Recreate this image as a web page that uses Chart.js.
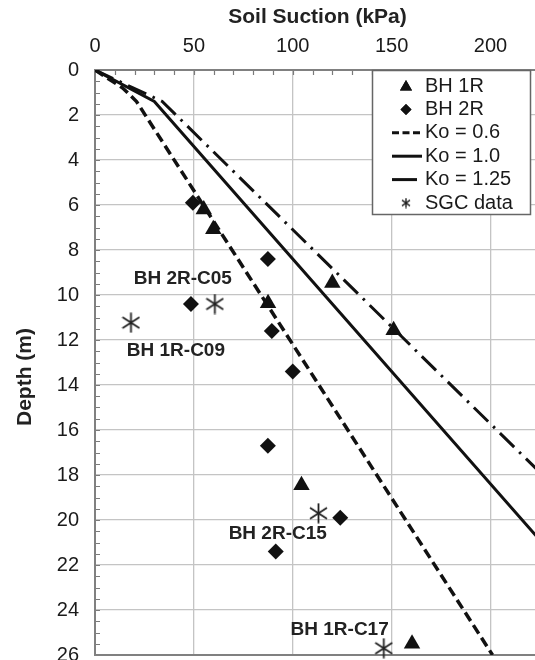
<!DOCTYPE html>
<html><head><meta charset="utf-8">
<script src="https://cdn.jsdelivr.net/npm/chart.js@4.4.0/dist/chart.umd.min.js"></script>
<style>
html,body{margin:0;padding:0;background:#fff;overflow:hidden;width:535px;height:660px}
#wrap{position:absolute;left:0;top:0;width:560px;height:700px}
</style>
</head><body><div id="wrap"><canvas id="c"></canvas></div>
<script>
// ---- data (suction in kPa, depth in m) ----
const bh1rSuction = [55, 59.8, 87.5, 120, 151, 104.4, 160.3];
const bh1rDepth   = [6.2, 7.08, 10.37, 9.47, 11.57, 18.46, 25.5];
const bh2rSuction = [49.5, 87.4, 48.5, 89.4, 100, 87.4, 124, 91.4];
const bh2rDepth   = [5.9, 8.4, 10.4, 11.6, 13.4, 16.7, 19.9, 21.4];
const sgcSuction  = [60.6, 18.2, 113, 146];
const sgcDepth    = [10.4, 11.23, 19.7, 25.7];
const ko06Suction = [0, 14, 21, 201];
const ko06Depth   = [0, 0.8, 1.4, 26];
const ko10Suction = [0, 30, 276];
const ko10Depth   = [0, 1.4, 26];
const ko125Suction = [0, 34, 319];
const ko125Depth   = [0, 1.4, 26];
const sgcLabels       = ['BH 2R-C05', 'BH 1R-C09', 'BH 2R-C15', 'BH 1R-C17'];
const sgcLabelSuction = [44.4, 40.9, 92.4, 123.7];
const sgcLabelDepth   = [9.3, 12.5, 20.6, 24.9];
const seriesNames = ['BH 1R', 'BH 2R', 'Ko = 0.6', 'Ko = 1.0', 'Ko = 1.25', 'SGC data'];
const xTitle = 'Soil Suction (kPa)';
const yTitle = 'Depth (m)';

const FONT = "'Liberation Sans', Arial, sans-serif";
const pts = (xs, ys) => xs.map((x, i) => ({x: x, y: ys[i]}));

function makeAsterisk(w, h, lw) {
  const c = document.createElement('canvas');
  c.width = w; c.height = h;
  const g = c.getContext('2d');
  g.strokeStyle = '#222'; g.lineWidth = lw; g.lineCap = 'butt';
  g.beginPath();
  g.moveTo(w/2, 0.5); g.lineTo(w/2, h-0.5);
  g.moveTo(1, h*0.24); g.lineTo(w-1, h*0.76);
  g.moveTo(1, h*0.76); g.lineTo(w-1, h*0.24);
  g.stroke();
  return c;
}
const asterisk = makeAsterisk(19, 21, 1.8);
const asteriskSmall = makeAsterisk(10, 11, 1.4);

const datasets = [
  {label: seriesNames[0], data: pts(bh1rSuction, bh1rDepth), pointStyle: 'triangle', pointRadius: 9.5,
   backgroundColor: '#111', borderColor: '#111', borderWidth: 0, showLine: false, clip: false},
  {label: seriesNames[1], data: pts(bh2rSuction, bh2rDepth), pointStyle: 'rectRot', pointRadius: 8,
   backgroundColor: '#111', borderColor: '#111', borderWidth: 0, showLine: false, clip: false},
  {label: seriesNames[2], data: pts(ko06Suction, ko06Depth), showLine: true, pointRadius: 0,
   borderColor: '#111', borderWidth: 3.5, borderDash: [10, 5], fill: false},
  {label: seriesNames[3], data: pts(ko10Suction, ko10Depth), showLine: true, pointRadius: 0,
   borderColor: '#111', borderWidth: 3, borderDash: [], fill: false},
  {label: seriesNames[4], data: pts(ko125Suction, ko125Depth), showLine: true, pointRadius: 0,
   borderColor: '#111', borderWidth: 3, borderDash: [20, 7, 2.5, 7], fill: false},
  {label: seriesNames[5], data: pts(sgcSuction, sgcDepth), pointStyle: asterisk, pointRadius: 10,
   backgroundColor: '#222', borderColor: '#222', showLine: false, clip: false}
];

const frameAndExtras = {
  id: 'frameAndExtras',
  beforeDatasetsDraw(chart) {
    const ctx = chart.ctx, a = chart.chartArea;
    const xs = chart.scales.x, ys = chart.scales.y;
    ctx.save();
    ctx.strokeStyle = '#7a7a7a';
    ctx.lineWidth = 1.2;
    ctx.beginPath();
    for (let v = 10; v < xs.max; v += 10) {
      const px = Math.round(xs.getPixelForValue(v)) + 0.5;
      ctx.moveTo(px, a.top); ctx.lineTo(px, a.top + 5);
    }
    for (let d = 0.5; d < ys.max; d += 0.5) {
      const py = Math.round(ys.getPixelForValue(d)) + 0.5;
      ctx.moveTo(a.left, py); ctx.lineTo(a.left + 5, py);
    }
    ctx.stroke();
    ctx.strokeStyle = '#808080';
    ctx.lineWidth = 2;
    ctx.strokeRect(a.left, a.top, a.right - a.left, a.bottom - a.top);
    ctx.restore();
  },
  afterDatasetsDraw(chart) {
    const ctx = chart.ctx;
    const xs = chart.scales.x, ys = chart.scales.y;
    ctx.save();
    // SGC annotations
    ctx.fillStyle = '#222';
    ctx.font = 'bold 19px ' + FONT;
    ctx.textAlign = 'center';
    ctx.textBaseline = 'middle';
    sgcLabels.forEach((t, i) => {
      ctx.fillText(t, xs.getPixelForValue(sgcLabelSuction[i]), ys.getPixelForValue(sgcLabelDepth[i]));
    });
    // Y title
    ctx.save();
    ctx.translate(25, 377);
    ctx.rotate(-Math.PI / 2);
    ctx.font = 'bold 21px ' + FONT;
    ctx.fillStyle = '#222';
    ctx.fillText(yTitle, 0, 0);
    ctx.restore();
    // Legend box
    const L = 372, T = chart.chartArea.top, R = 530, B = 214;
    ctx.fillStyle = '#fff';
    ctx.fillRect(L, T, R - L, B - T);
    ctx.strokeStyle = '#666';
    ctx.lineWidth = 1.5;
    ctx.strokeRect(L + 0.5, T + 0.5, R - L, B - T);
    const rowY = i => 86 + i * 23.4;
    const mx = 406;
    ctx.font = '20px ' + FONT;
    ctx.textAlign = 'left';
    chart.data.datasets.forEach((ds, i) => {
      const y = rowY(i);
      ctx.fillStyle = '#111';
      ctx.strokeStyle = '#111';
      if (ds.showLine) {
        ctx.save();
        ctx.lineWidth = 3;
        const dash = i === 2 ? [7, 3.5] : [];
        ctx.setLineDash(dash);
        ctx.beginPath();
        ctx.moveTo(392, y); ctx.lineTo(i === 4 ? 417 : 422, y);
        ctx.stroke();
        ctx.restore();
      } else if (ds.pointStyle === 'triangle') {
        Chart.helpers.drawPoint(ctx, {pointStyle: 'triangle', radius: 7, rotation: 0, borderWidth: 0}, mx, y + 1);
        ctx.fill();
      } else if (ds.pointStyle === 'rectRot') {
        Chart.helpers.drawPoint(ctx, {pointStyle: 'rectRot', radius: 5.5, rotation: 0, borderWidth: 0}, mx, y);
        ctx.fill();
      } else {
        ctx.drawImage(asteriskSmall, mx - 5, y - 5.5);
      }
      ctx.fillStyle = '#1a1a1a';
      ctx.fillText(ds.label, 425, y);
    });
    ctx.restore();
  }
};

new Chart(document.getElementById('c'), {
  type: 'scatter',
  data: {datasets: datasets},
  options: {
    responsive: true,
    maintainAspectRatio: false,
    animation: false,
    layout: {padding: {left: 0, top: 0, right: 20, bottom: 45}},
    plugins: {legend: {display: false}, tooltip: {enabled: false}},
    scales: {
      x: {
        type: 'linear', position: 'top', min: 0, max: 225,
        afterFit: s => { s.height = 70; },
        ticks: {stepSize: 50, includeBounds: false, padding: 12, color: '#1a1a1a',
                font: {family: FONT, size: 20}},
        grid: {color: '#c4c4c4', lineWidth: 1.3, drawTicks: false},
        border: {display: false},
        title: {display: true, text: xTitle, color: '#222', padding: {top: 5, bottom: 0},
                font: {family: FONT, size: 21, weight: 'bold'}}
      },
      y: {
        type: 'linear', position: 'left', reverse: true, min: 0, max: 26,
        afterFit: s => { s.width = 95; },
        ticks: {stepSize: 2, padding: 16, color: '#1a1a1a', font: {family: FONT, size: 20}},
        grid: {color: '#c4c4c4', lineWidth: 1.3, drawTicks: false},
        border: {display: false}
      }
    }
  },
  plugins: [frameAndExtras]
});
</script>
</body></html>
